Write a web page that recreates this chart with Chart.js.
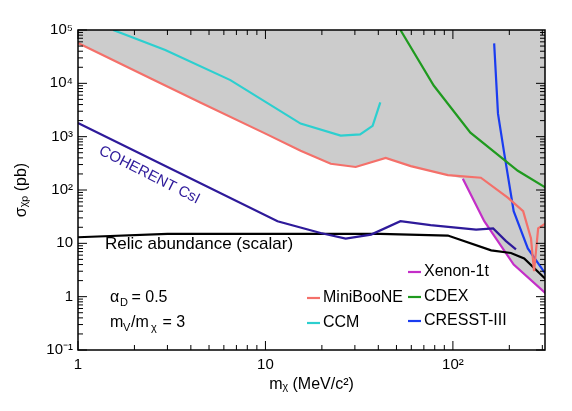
<!DOCTYPE html>
<html><head><meta charset="utf-8">
<script src="https://cdn.jsdelivr.net/npm/chart.js@4"></script>
<style>html,body{margin:0;background:#fff}#w{width:572px;height:411px}</style>
</head><body><div id="w"><canvas id="c"></canvas></div>
<script>
const miniX=[1,2.43,4.49,10,15.4,22.3,30.3,43.8,59.6,94,141,197,237,261,271,285,314];
const miniY=[57000,12400,4385,1140,545,310,270,400,280,190,170,71,40,12.3,3,19,24];
const ccmX=[1.54,2.92,6.5,15.4,25.2,32,37.3,41];
const ccmY=[100000,42000,11500,1760,1050,1100,1600,4400];
const cohX=[1,11.6,19.7,26.8,36.6,52.5,76,133,164,192,217];
const cohY=[1800,26,15.6,12.3,14.6,26,22,18,19,11,7.7];
const relicX=[1,3,41,94,160,204,240,314];
const relicY=[13,15,15,14,7.4,6.6,5.2,2.1];
const xenX=[113,147,211,314];
const xenY=[162,26,4,1.14];
const cdexX=[52.5,79,124,222,314];
const cdexY=[100000,9100,1190,229,110];
const cresX=[166,174,188,211,251,314];
const cresY=[56000,2700,480,40,8,2.6];
const envX=[1,2.43,4.49,10,15.4,22.3,30.3,43.8,59.6,94,113,147,211,314];
const envY=[57000,12400,4385,1140,545,310,270,400,280,190,162,26,4,1.14];
const yMajor=[0.1,1,10,100,1000,10000,100000];
const yLabels=['10⁻¹','1','10','10²','10³','10⁴','10⁵'];
const xMajor=[1,10,100];
const xLabels=['1','10','10²'];
const pts=(xs,ys)=>xs.map((x,i)=>({x,y:ys[i]}));
const ln=(xs,ys,c,w)=>({data:pts(xs,ys),borderColor:c,borderWidth:w||2.2,pointRadius:0,fill:false,tension:0,order:0});
const FONT='"Liberation Sans", Arial, sans-serif';
const deco={id:'deco',afterDatasetsDraw(ch){
 const g=ch.ctx,a=ch.chartArea,xs=ch.scales.x,ys=ch.scales.y;
 g.save();g.strokeStyle='#000';g.lineWidth=1.5;g.strokeRect(a.left,a.top,a.right-a.left,a.bottom-a.top);
 g.lineWidth=1;g.beginPath();
 for(let e=-1;e<5;e++)for(let m=1;m<10;m++){const v=m*Math.pow(10,e);const p=ys.getPixelForValue(v);const L=m==1?9:5;
  g.moveTo(a.left,p);g.lineTo(a.left+L,p);g.moveTo(a.right,p);g.lineTo(a.right-L,p);}
 {const p=ys.getPixelForValue(1e5);g.moveTo(a.left,p);g.lineTo(a.left+9,p);}
 for(let e=0;e<3;e++)for(let m=1;m<10;m++){const v=m*Math.pow(10,e);if(v>xs.max)continue;const p=xs.getPixelForValue(v);const L=m==1?9:5;
  g.moveTo(p,a.bottom);g.lineTo(p,a.bottom-L);g.moveTo(p,a.top);g.lineTo(p,a.top+L);}
 g.stroke();
 g.fillStyle='#000';g.font='15px '+FONT;g.textAlign='right';g.textBaseline='middle';
 yMajor.forEach((v,i)=>g.fillText(yLabels[i],a.left-5,ys.getPixelForValue(v)));
 g.textAlign='center';g.textBaseline='top';
 xMajor.forEach((v,i)=>g.fillText(xLabels[i],xs.getPixelForValue(v),a.bottom+7));
 g.font='16px '+FONT;g.fillText('mᵪ (MeV/c²)',(a.left+a.right)/2,a.bottom+27);
 g.save();g.translate(22,190);g.rotate(-Math.PI/2);g.textBaseline='middle';g.fillText('σᵪₚ (pb)',0,0);g.restore();
 g.textAlign='left';g.textBaseline='middle';g.font='17px '+FONT;
 g.fillText('Relic abundance (scalar)',105,244);
 g.save();g.translate(100,150);g.rotate(0.47);g.fillStyle='#2e1a9a';g.font='15px '+FONT;g.fillText('COHERENT CsI',0,0);g.restore();
 g.font='16px '+FONT;
 g.fillText('α',110,298);g.font='11px '+FONT;g.fillText('D',120,303);g.font='16px '+FONT;g.fillText(' = 0.5',127,298);
 g.fillText('m',110,323);g.font='11px '+FONT;g.fillText('V',123,328);g.font='16px '+FONT;g.fillText('/m',131,323);g.font='11px '+FONT;g.fillText('χ',151,328);g.font='16px '+FONT;g.fillText(' = 3',158,323);
 const leg=[['MiniBooNE','#f4706a',307,298],['CCM','#2ccfcf',307,323],['Xenon-1t','#c42ec8',408,272],['CDEX','#1f9a1f',408,297],['CRESST-III','#1a3cf0',408,321]];
 leg.forEach(([t,c,x,y])=>{g.strokeStyle=c;g.lineWidth=2.2;g.beginPath();g.moveTo(x,y);g.lineTo(x+13,y);g.stroke();g.fillStyle='#000';g.fillText(t,x+16,y);});
 g.restore();}};
new Chart(document.getElementById('c'),{type:'line',
 data:{datasets:[
  {data:pts(envX,envY),borderWidth:0,borderColor:'rgba(0,0,0,0)',pointRadius:0,fill:'end',backgroundColor:'#cccccc',tension:0,order:10},
  ln(ccmX,ccmY,'#2ccfcf'),ln(miniX,miniY,'#f4706a'),ln(cohX,cohY,'#2e1a9a'),ln(relicX,relicY,'#000'),
  ln(xenX,xenY,'#c42ec8'),ln(cdexX,cdexY,'#1f9a1f'),ln(cresX,cresY,'#1a3cf0')]},
 options:{responsive:true,maintainAspectRatio:false,animation:false,
  layout:{padding:{left:78,right:27,top:30,bottom:61}},
  plugins:{legend:{display:false},tooltip:{enabled:false}},
  scales:{x:{type:'logarithmic',min:1,max:310,display:false},y:{type:'logarithmic',min:0.1,max:100000,display:false}}},
 plugins:[deco]});
</script></body></html>
